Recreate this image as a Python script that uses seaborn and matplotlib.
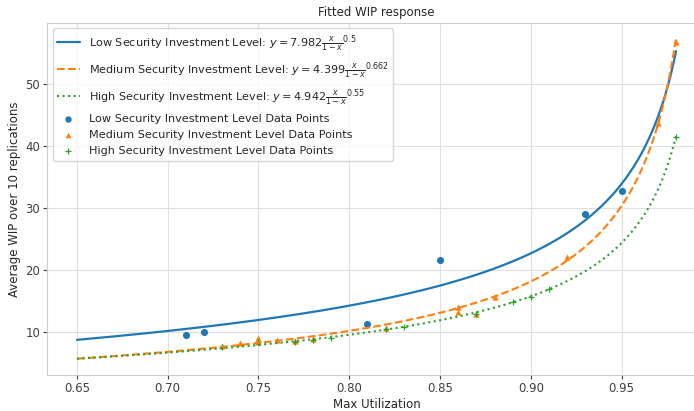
import numpy as np
import pandas as pd
import matplotlib
matplotlib.use("Agg")
import matplotlib.pyplot as plt
import seaborn as sns

# fitted parameters shown in the legend: y = a * x / (1 - x)^b
levels = ["Low", "Medium", "High"]
fit_a = [7.982, 4.399, 4.942]
fit_b = [0.5, 0.662, 0.55]
fit_b_txt = ["0.5", "0.662", "0.55"]

# measured data points (average WIP over 10 replications)
low_x = [0.71, 0.72, 0.81, 0.85, 0.93, 0.95]
low_y = [9.5, 10.0, 11.3, 21.7, 29.0, 32.7]

med_x = [0.73, 0.74, 0.75, 0.75, 0.76, 0.77, 0.78, 0.82, 0.86, 0.86, 0.87, 0.88, 0.92, 0.97, 0.98]
med_y = [7.8, 8.2, 8.4, 9.1, 8.7, 8.6, 8.9, 10.6, 13.3, 14.0, 13.0, 15.7, 22.2, 43.8, 56.8]

high_x = [0.73, 0.75, 0.77, 0.78, 0.79, 0.82, 0.83, 0.87, 0.89, 0.90, 0.91, 0.98]
high_y = [7.6, 8.4, 8.5, 8.7, 9.0, 10.5, 10.8, 13.0, 14.8, 15.6, 16.9, 41.5]

x_range = (0.65, 0.98)

sns.set_style("whitegrid", {"axes.edgecolor": ".8", "grid.color": ".88"})
plt.rcParams["font.family"] = ["DejaVu Sans"]

fig = plt.figure(figsize=(6.94, 4.11), dpi=100)
ax = fig.add_axes([47 / 694, 36 / 411, 659 / 694, 352.3 / 411])

colors = sns.color_palette("tab10")
styles = ["-", "--", ":"]
xs = np.linspace(x_range[0], x_range[1], 300)

for i, lvl in enumerate(levels):
    ys = fit_a[i] * xs / (1 - xs) ** fit_b[i]
    lab = (f"{lvl} Security Investment Level: "
           rf"$y = {fit_a[i]:.3f}\frac{{x}}{{1-x}}^{{{fit_b_txt[i]}}}$")
    sns.lineplot(x=xs, y=ys, ax=ax, color=colors[i], linestyle=styles[i],
                 linewidth=1.6 if i == 0 else 1.5, label=lab)

pts = [(low_x, low_y, "o", 26), (med_x, med_y, "^", 20), (high_x, high_y, "+", 22)]
for i, (px, py, mk, sz) in enumerate(pts):
    df = pd.DataFrame({"x": px, "y": py})
    sns.scatterplot(data=df, x="x", y="y", ax=ax, color=colors[i], marker=mk,
                    s=sz, linewidth=0.9 if mk == "+" else 0,
                    label=f"{levels[i]} Security Investment Level Data Points")

ax.set_ylim(3.1, 59.9)
ax.set_xticks([0.65, 0.70, 0.75, 0.80, 0.85, 0.90, 0.95])
ax.set_xticklabels(["0.65", "0.70", "0.75", "0.80", "0.85", "0.90", "0.95"])
ax.tick_params(labelsize=8.5, colors=".25", length=3, pad=2, left=True, bottom=True)
ax.set_xlabel("Max Utilization", fontsize=8.5, color=".15", labelpad=2)
ax.set_ylabel("Average WIP over 10 replications", fontsize=8.5, color=".15", labelpad=3)
ax.set_title("Fitted WIP response", fontsize=8.5, color=".15", pad=5)

ax.legend(loc="upper left", fontsize=8.1, frameon=True, markerscale=0.9,
          labelspacing=0.55)

fig.savefig("out.png", dpi=100)
